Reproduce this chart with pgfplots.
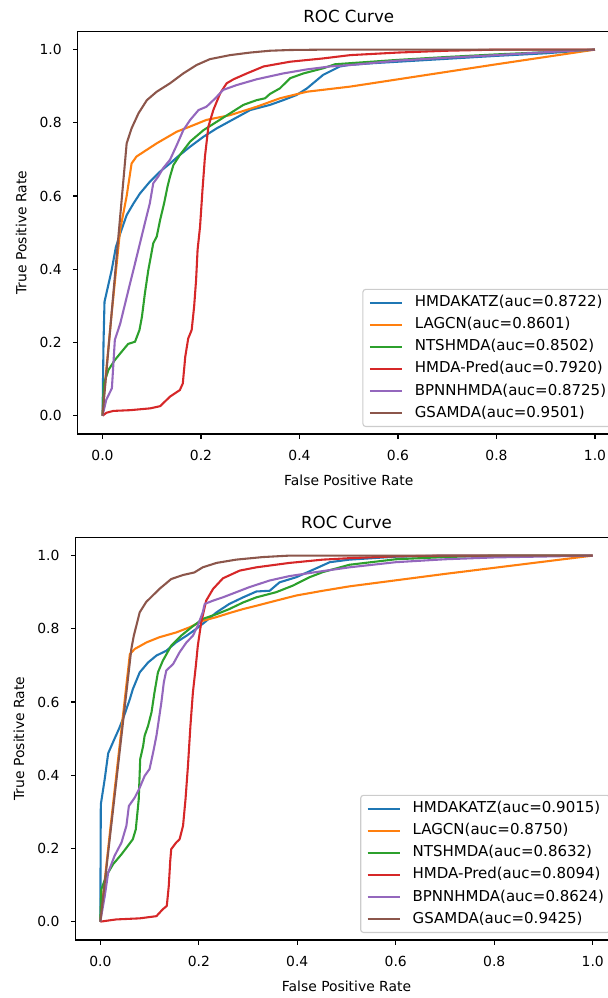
\documentclass[border=0pt]{standalone}
\usepackage{fontspec}
\setmainfont{DejaVu Sans}
\usepackage{pgfplots}
\pgfplotsset{compat=1.18}
\definecolor{c0}{HTML}{1F77B4}
\definecolor{c1}{HTML}{FF7F0E}
\definecolor{c2}{HTML}{2CA02C}
\definecolor{c3}{HTML}{D62728}
\definecolor{c4}{HTML}{9467BD}
\definecolor{c5}{HTML}{8C564B}
\definecolor{legframe}{gray}{0.8}
\pgfplotsset{
 rocaxis/.style={
  scale only axis, width=390pt, height=289.9pt,
  xmin=-0.05,xmax=1.05,ymin=-0.05,ymax=1.05,
  xtick={0,0.2,0.4,0.6,0.8,1.0}, ytick={0,0.2,0.4,0.6,0.8,1.0},
  tick pos=left, tick align=outside, major tick length=3.5pt,
  every tick/.style={black, line width=0.8pt},
  axis line style={line width=0.8pt},
  /pgf/number format/.cd, fixed, fixed zerofill, precision=1, assume math mode=true, /pgfplots/.cd,
  ticklabel style={font=\fontsize{10}{12}\selectfont, inner sep=0pt},
  xticklabel style={anchor=north, yshift=-8pt},
  yticklabel style={anchor=east, xshift=-8pt},
  title style={at={(axis description cs:0.5,1)}, anchor=base, inner sep=0pt, font=\fontsize{12}{14}\selectfont},
  every axis x label/.style={at={(axis description cs:0.5,0)}, anchor=north, yshift=-29pt, inner sep=0pt, font=\fontsize{10}{12}\selectfont},
  every axis y label/.style={at={(axis description cs:0,0.5)}, xshift=-40.8pt, rotate=90, anchor=center, inner sep=0pt, font=\fontsize{10}{12}\selectfont},
  legend style={at={(axis description cs:1,0)}, anchor=south east, xshift=-5pt, yshift=5pt,
    draw=legframe, line width=0.8pt, rounded corners=2pt, fill=white, fill opacity=0.8, text opacity=1,
    inner xsep=4.3pt, inner ysep=4.3pt, row sep=5.3pt, font=\fontsize{10.8}{13}\selectfont,
    nodes={inner sep=0pt, text height=8.2pt, text depth=2.4pt},
    /tikz/every odd column/.append style={column sep=8.6pt}},
  legend cell align=left,
  legend image code/.code={\draw[#1, line width=1.5pt] (0pt,0pt) -- (23pt,0pt);},
  every axis plot/.append style={line width=1.5pt, line join=round},
  title={ROC Curve}, xlabel={False Positive Rate}, ylabel={True Positive Rate},
 }
}
\begin{document}
\begin{tikzpicture}
\begin{axis}[rocaxis, at={(56.1pt,406.1pt)}, anchor=south west]
\addplot[c0] coordinates {(0,0) (0.002,0.20) (0.004,0.311) (0.0186,0.398) (0.027,0.46) (0.036,0.498) (0.049,0.548) (0.063,0.58) (0.076,0.607) (0.096,0.639) (0.117,0.667) (0.137,0.689) (0.154,0.709) (0.178,0.735) (0.205,0.762) (0.232,0.785) (0.266,0.81) (0.30,0.835) (0.34,0.849) (0.367,0.862) (0.394,0.876) (0.415,0.894) (0.448,0.931) (0.482,0.954) (0.50,0.958) (0.55,0.963) (0.6,0.967) (0.7,0.975) (0.8,0.983) (0.9,0.99) (1,1)};
\addlegendentry{HMDAKATZ(auc=0.8722)}
\addplot[c1] coordinates {(0,0) (0.003,0.06) (0.0186,0.28) (0.0357,0.507) (0.049,0.60) (0.059,0.689) (0.069,0.708) (0.11,0.744) (0.151,0.776) (0.178,0.79) (0.211,0.808) (0.259,0.821) (0.313,0.844) (0.36,0.867) (0.415,0.885) (0.503,0.899) (0.8,0.96) (1,1)};
\addlegendentry{LAGCN(auc=0.8601)}
\addplot[c2] coordinates {(0,0) (0.003,0.088) (0.012,0.125) (0.025,0.152) (0.039,0.175) (0.052,0.196) (0.066,0.202) (0.075,0.234) (0.08,0.27) (0.086,0.334) (0.093,0.398) (0.098,0.434) (0.103,0.471) (0.11,0.489) (0.117,0.535) (0.125,0.58) (0.132,0.626) (0.137,0.653) (0.144,0.685) (0.157,0.712) (0.178,0.749) (0.205,0.78) (0.232,0.803) (0.259,0.826) (0.286,0.849) (0.313,0.862) (0.33,0.867) (0.34,0.879) (0.36,0.894) (0.381,0.922) (0.408,0.935) (0.448,0.949) (0.472,0.96) (0.503,0.963) (0.6,0.972) (0.7,0.98) (0.8,0.987) (0.9,0.993) (1,1)};
\addlegendentry{NTSHMDA(auc=0.8502)}
\addplot[c3] coordinates {(0,0) (0.008,0.008) (0.022,0.013) (0.056,0.015) (0.097,0.02) (0.117,0.026) (0.137,0.052) (0.157,0.07) (0.163,0.088) (0.168,0.161) (0.174,0.211) (0.181,0.234) (0.186,0.298) (0.19,0.371) (0.193,0.453) (0.198,0.516) (0.203,0.617) (0.208,0.708) (0.215,0.79) (0.225,0.835) (0.239,0.881) (0.252,0.908) (0.266,0.919) (0.293,0.935) (0.327,0.954) (0.381,0.967) (0.448,0.976) (0.503,0.985) (0.6,0.992) (0.7,0.997) (0.8,1) (1,1)};
\addlegendentry{HMDA-Pred(auc=0.7920)}
\addplot[c4] coordinates {(0,0) (0.0075,0.043) (0.019,0.075) (0.025,0.207) (0.036,0.252) (0.046,0.307) (0.056,0.362) (0.066,0.416) (0.076,0.471) (0.086,0.526) (0.096,0.58) (0.103,0.635) (0.113,0.653) (0.123,0.676) (0.137,0.699) (0.151,0.74) (0.164,0.78) (0.178,0.808) (0.195,0.835) (0.211,0.844) (0.229,0.867) (0.245,0.89) (0.272,0.903) (0.313,0.919) (0.367,0.935) (0.415,0.946) (0.462,0.954) (0.503,0.958) (0.6,0.97) (0.7,0.978) (0.8,0.985) (0.9,0.993) (1,1)};
\addlegendentry{BPNNHMDA(auc=0.8725)}
\addplot[c5] coordinates {(0,0) (0.049,0.744) (0.059,0.785) (0.073,0.826) (0.09,0.862) (0.11,0.885) (0.137,0.908) (0.164,0.935) (0.191,0.958) (0.218,0.974) (0.259,0.985) (0.30,0.992) (0.34,0.997) (0.381,0.999) (0.45,1) (1,1)};
\addlegendentry{GSAMDA(auc=0.9501)}
\end{axis}
\begin{axis}[rocaxis, at={(54.5pt,41.8pt)}, anchor=south west]
\addplot[c0] coordinates {(0,0) (0.001,0.32) (0.009,0.39) (0.016,0.46) (0.029,0.50) (0.039,0.53) (0.049,0.565) (0.06,0.608) (0.066,0.635) (0.08,0.681) (0.097,0.708) (0.114,0.727) (0.134,0.74) (0.154,0.763) (0.175,0.781) (0.195,0.8) (0.212,0.818) (0.236,0.845) (0.262,0.868) (0.29,0.886) (0.317,0.902) (0.344,0.904) (0.364,0.927) (0.398,0.941) (0.438,0.965) (0.466,0.982) (0.506,0.989) (0.6,0.997) (0.7,1) (1,1)};
\addlegendentry{HMDAKATZ(auc=0.9015)}
\addplot[c1] coordinates {(0,0) (0.02,0.25) (0.06,0.731) (0.07,0.745) (0.094,0.763) (0.12,0.777) (0.154,0.79) (0.181,0.804) (0.208,0.822) (0.236,0.832) (0.262,0.843) (0.29,0.854) (0.317,0.863) (0.357,0.877) (0.398,0.891) (0.452,0.904) (0.506,0.916) (0.7,0.95) (1,1)};
\addlegendentry{LAGCN(auc=0.8750)}
\addplot[c2] coordinates {(0,0) (0.002,0.088) (0.012,0.125) (0.026,0.157) (0.043,0.184) (0.056,0.207) (0.066,0.225) (0.072,0.252) (0.078,0.334) (0.081,0.444) (0.087,0.48) (0.09,0.508) (0.097,0.535) (0.104,0.572) (0.11,0.626) (0.117,0.681) (0.127,0.713) (0.144,0.754) (0.164,0.781) (0.185,0.804) (0.208,0.827) (0.236,0.84) (0.262,0.854) (0.29,0.872) (0.317,0.886) (0.357,0.9) (0.391,0.918) (0.425,0.941) (0.452,0.955) (0.506,0.975) (0.6,0.99) (0.7,0.996) (0.8,1) (1,1)};
\addlegendentry{NTSHMDA(auc=0.8632)}
\addplot[c3] coordinates {(0,0) (0.032,0.006) (0.08,0.009) (0.114,0.015) (0.127,0.034) (0.135,0.043) (0.139,0.097) (0.142,0.166) (0.144,0.198) (0.154,0.216) (0.161,0.225) (0.168,0.262) (0.173,0.334) (0.178,0.426) (0.183,0.535) (0.188,0.626) (0.194,0.699) (0.198,0.754) (0.205,0.818) (0.215,0.877) (0.229,0.909) (0.249,0.938) (0.283,0.959) (0.317,0.968) (0.384,0.98) (0.452,0.989) (0.506,0.993) (0.6,0.998) (0.7,1) (1,1)};
\addlegendentry{HMDA-Pred(auc=0.8094)}
\addplot[c4] coordinates {(0,0) (0.009,0.07) (0.016,0.134) (0.029,0.18) (0.043,0.216) (0.053,0.262) (0.058,0.316) (0.07,0.339) (0.08,0.366) (0.09,0.398) (0.1,0.417) (0.108,0.467) (0.114,0.508) (0.117,0.535) (0.124,0.599) (0.129,0.654) (0.134,0.686) (0.148,0.704) (0.161,0.736) (0.175,0.763) (0.188,0.781) (0.198,0.809) (0.208,0.845) (0.212,0.868) (0.229,0.877) (0.249,0.886) (0.276,0.9) (0.303,0.914) (0.344,0.932) (0.384,0.944) (0.438,0.955) (0.506,0.968) (0.6,0.982) (0.7,0.99) (0.8,0.995) (1,1)};
\addlegendentry{BPNNHMDA(auc=0.8624)}
\addplot[c5] coordinates {(0,0) (0.063,0.745) (0.068,0.781) (0.08,0.845) (0.093,0.873) (0.12,0.909) (0.144,0.936) (0.168,0.947) (0.191,0.954) (0.208,0.968) (0.236,0.98) (0.276,0.989) (0.33,0.996) (0.384,1) (1,1)};
\addlegendentry{GSAMDA(auc=0.9425)}
\end{axis}
\pgfresetboundingbox
\path[use as bounding box] (0,0) rectangle (437.76pt,718.56pt);
\end{tikzpicture}
\end{document}
